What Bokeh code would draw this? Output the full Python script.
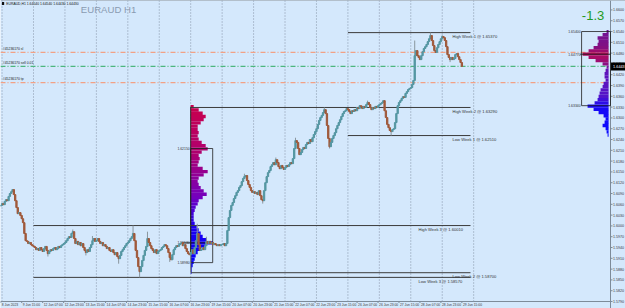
from bokeh.plotting import figure
from bokeh.models import Range1d, ColumnDataSource
from bokeh.embed import file_html
from bokeh.resources import INLINE
from bokeh.core.properties import value

# ---------------- data ----------------
SYMBOL = "EURAUD"
PERIOD = "H1"
FIRST_OPEN_PTS = 16055

# hourly closes (price * 10000), 8 Jun 23:00 .. 29 Jun 15:00
close_pts = [
    # 8 Jun 23:00, 9 Jun
    16057, 16062, 16059, 16068, 16073, 16070, 16082, 16090, 16095, 16101, 16087, 16070, 16051,
    16034, 16037, 16029, 16020, 16009, 15979, 15959, 15957, 15951, 15954, 15948, 15945,
    # 12 Jun
    15943, 15940, 15934, 15937, 15932, 15940, 15934, 15929, 15937, 15943, 15932, 15923,
    15929, 15934, 15932, 15937, 15940, 15934, 15937, 15943, 15940, 15945, 15948, 15951,
    # 13 Jun
    15954, 15959, 15965, 15970, 15968, 15979, 15984, 15965, 15951, 15957, 15948, 15954,
    15945, 15951, 15940, 15932, 15926, 15934, 15929, 15940, 15948, 15959, 15965, 15957,
    # 14 Jun
    15959, 15965, 15957, 15951, 15954, 15945, 15948, 15943, 15937, 15940, 15932, 15929,
    15934, 15926, 15920, 15926, 15915, 15909, 15918, 15929, 15934, 15940, 15945, 15951,
    # 15 Jun
    15954, 15959, 15965, 15970, 15979, 15959, 15932, 15912, 15887, 15873, 15887, 15904,
    15918, 15932, 15943, 15965, 15954, 15945, 15937, 15932, 15926, 15934, 15923, 15929,
    # 16 Jun
    15932, 15934, 15940, 15943, 15948, 15945, 15937, 15926, 15912, 15906, 15920, 15934,
    15940, 15945, 15943, 15948, 15951, 15954, 15945, 15948, 15937, 15929, 15923, 15920,
    # 19 Jun
    15926, 15934, 15923, 15940, 15959, 15979, 15948, 15932, 15934, 15940, 15934, 15945,
    15957, 15951, 15957, 15951, 15954, 15948, 15951, 15948, 15945, 15948, 15945, 15948,
    # 20 Jun
    15948, 15951, 15945, 15951, 15987, 16023, 16043, 16057, 16065, 16076, 16084, 16093,
    16098, 16107, 16112, 16123, 16132, 16137, 16140, 16126, 16115, 16107, 16098, 16093,
    # 21 Jun
    16095, 16090, 16093, 16087, 16098, 16084, 16073, 16070, 16098, 16120, 16137, 16148,
    16154, 16165, 16170, 16176, 16170, 16184, 16176, 16165, 16159, 16168, 16162, 16157,
    # 22 Jun
    16162, 16168, 16165, 16170, 16176, 16173, 16187, 16215, 16237, 16232, 16215, 16198,
    16204, 16212, 16218, 16215, 16226, 16232, 16229, 16240, 16234, 16245, 16254, 16262,
    # 23 Jun
    16270, 16282, 16293, 16301, 16307, 16315, 16323, 16312, 16279, 16243, 16220, 16232,
    16243, 16251, 16259, 16270, 16279, 16287, 16295, 16304, 16312, 16318, 16320, 16326,
    # 26 Jun
    16323, 16318, 16312, 16320, 16318, 16323, 16320, 16329, 16326, 16334, 16332, 16326,
    16332, 16329, 16337, 16343, 16337, 16329, 16323, 16329, 16326, 16332, 16329, 16334,
    # 27 Jun
    16337, 16340, 16343, 16348, 16320, 16301, 16282, 16273, 16265, 16262, 16268, 16270,
    16287, 16312, 16334, 16343, 16348, 16354, 16359, 16357, 16368, 16373, 16379, 16382,
    # 28 Jun
    16384, 16393, 16404, 16473, 16487, 16473, 16468, 16462, 16473, 16484, 16493, 16498,
    16504, 16512, 16520, 16529, 16515, 16501, 16487, 16482, 16495, 16504, 16512, 16520,
    # 29 Jun
    16526, 16523, 16515, 16498, 16476, 16468, 16462, 16468, 16462, 16465, 16476, 16479,
    16470, 16462, 16454, 16443,
]

# notable wick extremes (bar index -> price * 10000)
wick_high_pts = {12: 16066, 55: 15990, 70: 15972, 101: 16001, 112: 15984, 150: 16006,
                 157: 15970, 186: 16145, 210: 16190, 225: 16245, 247: 16329, 280: 16348,
                 316: 16515, 328: 16537, 337: 16530}
wick_low_pts = {36: 15915, 65: 15918, 90: 15895, 106: 15857, 129: 15900, 145: 15870,
                200: 16062, 251: 16215, 298: 16251, 343: 16455}

day_start_bars = [1, 25, 49, 73, 97, 121, 145, 169, 193, 217, 241, 265, 289, 313, 337, 361]

time_tick_bars = [0, 16, 32, 48, 64, 80, 96, 112, 128, 144, 160, 176, 192, 208, 224,
                  240, 256, 272, 288, 304, 320, 336, 352]
time_tick_labels = ["8 Jun 2023", "9 Jun 15:00", "12 Jun 07:00", "12 Jun 23:00",
                    "13 Jun 15:00", "14 Jun 07:00", "14 Jun 23:00", "15 Jun 15:00",
                    "16 Jun 07:00", "16 Jun 23:00", "19 Jun 15:00", "20 Jun 07:00",
                    "20 Jun 23:00", "21 Jun 15:00", "22 Jun 07:00", "22 Jun 23:00",
                    "23 Jun 15:00", "26 Jun 07:00", "26 Jun 23:00", "27 Jun 15:00",
                    "28 Jun 07:00", "28 Jun 23:00", "29 Jun 15:00"]

price_ticks = [1.5790, 1.5820, 1.5850, 1.5880, 1.5910, 1.5940, 1.5970, 1.6000, 1.6030,
               1.6060, 1.6090, 1.6120, 1.6150, 1.6180, 1.6210, 1.6240, 1.6270, 1.6300,
               1.6330, 1.6360, 1.6390, 1.6420, 1.6450, 1.6480, 1.6510, 1.6540, 1.6570,
               1.6600]

week_names = ["Week 1", "Week 2", "Week 3"]
week_first_bar = [265, 145, 25]
week_last_bar = [352, 264, 144]

trade_ticket = "#45236170"
trade_levels = [1.6482, 1.6443, 1.6398]
trade_tags = ["sl", "sell 0.01", "tp"]

daily_change = "-1.3"

left_prof_top = 1.6331
left_prof_step = 0.0009
left_prof_vol = [3, 8, 12, 15, 13, 10, 7, 7, 8, 7, 8, 11, 15, 17, 11, 8, 9, 8, 7, 12,
                 17, 13, 8, 7, 8, 10, 13, 16, 12, 8, 7, 5, 4, 3, 3, 3, 4, 6, 8, 10,
                 12, 16, 22, 15, 10, 7, 5, 4, 3, 2, 1, 1]
left_prof_start_bar = 145
left_va = (1.6215, 1.5898)

right_prof_top = 1.6540
right_prof_step = 0.0009
right_prof_vol = [2, 6, 11, 10, 11, 15, 20, 26, 20, 13, 6, 2, 3, 4, 4, 3, 5, 6, 8, 9,
                  10, 11, 14, 21, 15, 10, 5, 3, 4, 6, 3, 2, 1]
right_va = (1.6540, 1.6334)

# ---------------- layout / style ----------------
BG = "#d4e8fc"
AXC = "#7d8b99"
PX = 1.31                      # pixels per bar
PY = 0.0002778                 # price per pixel
X0 = -0.19                     # left edge (bars)
AX = 465.46                    # price-axis position (bars)
XMAX = X0 + 625 / PX
Y1 = 1.66262                   # top edge (price)
YB = 1.5790                    # time-axis position (price)
YMIN = Y1 - 308 * PY
FONT = value("Liberation Sans")
LINE_END_BAR = 358.6
RIGHT_EDGE_BAR = 464.0

n = len(close_pts)
idx = list(range(n))
closes = [c / 10000 for c in close_pts]
opens = [FIRST_OPEN_PTS / 10000] + closes[:-1]
highs = [max(o, c) for o, c in zip(opens, closes)]
lows = [min(o, c) for o, c in zip(opens, closes)]
for k, v in wick_high_pts.items():
    highs[k] = max(highs[k], v / 10000)
for k, v in wick_low_pts.items():
    lows[k] = min(lows[k], v / 10000)

p = figure(width=625, height=308, x_range=Range1d(X0, XMAX), y_range=Range1d(YMIN, Y1),
           output_backend="svg", toolbar_location=None, x_axis_location=None,
           y_axis_location=None, min_border=0, background_fill_color=BG,
           border_fill_color=BG, outline_line_color=None)
p.grid.visible = False

# ---- axes (price on the right, time below) ----
p.segment(x0=[AX, X0, X0], x1=[AX, AX, XMAX], y0=[YMIN, YB, Y1], y1=[Y1, YB, Y1],
          line_color=AXC, line_width=1)
p.segment(x0=[AX] * len(price_ticks), x1=[AX + 2 / PX] * len(price_ticks),
          y0=price_ticks, y1=price_ticks, line_color=AXC, line_width=1)
p.text(x=[AX + 2.6 / PX] * len(price_ticks), y=price_ticks,
       text=[f"{t:.4f}" for t in price_ticks], text_font=FONT, text_font_size=value("3.6px"),
       text_color="#3a3a3a", text_baseline="middle", text_align="left")
p.segment(x0=time_tick_bars, x1=time_tick_bars, y0=[YB] * len(time_tick_bars),
          y1=[YB - 1.5 * PY] * len(time_tick_bars), line_color=AXC, line_width=1)
p.text(x=[b + 0.8 for b in time_tick_bars], y=[YB - 1.6 * PY] * len(time_tick_bars),
       text=time_tick_labels, text_font=FONT, text_font_size=value("3.3px"),
       text_color="#3a3a3a", text_baseline="top", text_align="left")

# day separators
p.segment(x0=day_start_bars, x1=day_start_bars, y0=[YB] * len(day_start_bars),
          y1=[Y1] * len(day_start_bars), line_color="#8694a8", line_dash="1 2", line_width=1)

# trade lines
trade_colors = ["#f2a184", "#4cb67e", "#f2a184"]
for lvl, tag, col in zip(trade_levels, trade_tags, trade_colors):
    p.segment(x0=[X0], x1=[AX], y0=[lvl], y1=[lvl], line_color=col, line_dash="5 2 1 2",
              line_width=1.2)
    p.text(x=[1.6], y=[lvl + 0.0004], text=[f"{trade_ticket} {tag}"], text_font=FONT,
           text_font_size=value("3.4px"), text_color="#202020", text_baseline="bottom",
           text_align="left")


# volume profiles
def blend(stops, t):
    for (t0, c0), (t1, c1) in zip(stops[:-1], stops[1:]):
        if t0 <= t <= t1:
            f = (t - t0) / (t1 - t0) if t1 > t0 else 0
            r, g, b = (round(a + (bb - a) * f) for a, bb in zip(c0, c1))
            return f"#{r:02x}{g:02x}{b:02x}"
    r, g, b = stops[-1][1]
    return f"#{r:02x}{g:02x}{b:02x}"


lp_levels = [left_prof_top - k * left_prof_step for k in range(len(left_prof_vol))]
lp_stops = [(0.0, (200, 0, 78)), (0.28, (175, 0, 110)), (0.55, (115, 0, 190)),
            (0.72, (30, 0, 240)), (1.0, (0, 0, 255))]
lp_cols = [blend(lp_stops, k / (len(lp_levels) - 1)) for k in range(len(lp_levels))]
p.hbar(y=lp_levels, height=left_prof_step * 1.02, left=left_prof_start_bar,
       right=[left_prof_start_bar + v / PX for v in left_prof_vol],
       fill_color=lp_cols, line_color=None)
p.segment(x0=[left_prof_start_bar], x1=[left_prof_start_bar], y0=[lp_levels[-1]],
          y1=[lp_levels[0]], line_color="#2a2a2a", line_width=1)

rp_levels = [right_prof_top - k * right_prof_step for k in range(len(right_prof_vol))]
rp_stops = [(0.0, (112, 20, 150)), (0.15, (130, 15, 130)), (0.22, (178, 10, 92)),
            (0.3, (150, 15, 120)), (0.38, (95, 20, 185)), (0.62, (85, 20, 200)),
            (0.72, (25, 10, 245)), (1.0, (10, 10, 255))]
rp_cols = [blend(rp_stops, k / (len(rp_levels) - 1)) for k in range(len(rp_levels))]
p.hbar(y=rp_levels, height=right_prof_step * 1.02, right=RIGHT_EDGE_BAR,
       left=[RIGHT_EDGE_BAR - v / PX for v in right_prof_vol],
       fill_color=rp_cols, line_color=None)

# value-area boxes and POC lines
lp_poc = lp_levels[left_prof_vol.index(max(left_prof_vol))]
rp_poc = rp_levels[right_prof_vol.index(max(right_prof_vol))]
l_box_right = left_prof_start_bar + max(left_prof_vol) / PX
r_box_left = RIGHT_EDGE_BAR - 27 / PX
p.quad(left=[left_prof_start_bar], right=[l_box_right], top=[left_va[0]], bottom=[left_va[1]],
       fill_color=None, line_color="#1e1e1e", line_width=0.8)
p.quad(left=[r_box_left], right=[AX], top=[right_va[0]], bottom=[right_va[1]],
       fill_color=None, line_color="#1e1e1e", line_width=0.8)
p.segment(x0=[left_prof_start_bar - 7], x1=[l_box_right], y0=[lp_poc], y1=[lp_poc],
          line_color="#1e1e1e", line_width=0.9)
p.segment(x0=[r_box_left - 1], x1=[AX], y0=[rp_poc], y1=[rp_poc],
          line_color="#1e1e1e", line_width=0.9)
for xb, vals in ((left_prof_start_bar - 0.8, [left_va[0], lp_poc, left_va[1]]),
                 (r_box_left - 0.8, [right_va[0], rp_poc, right_va[1]])):
    p.text(x=[xb] * 3, y=vals, text=[f"{v:.5f}" for v in vals], text_font=FONT,
           text_font_size=value("3.4px"), text_color="#303030", text_align="right",
           text_baseline="middle")

# weekly high / low lines
for name, b0, b1 in zip(week_names, week_first_bar, week_last_bar):
    hi = max(highs[b0:b1 + 1])
    lo = min(lows[b0:b1 + 1])
    p.segment(x0=[b0, b0], x1=[LINE_END_BAR, LINE_END_BAR], y0=[hi, lo], y1=[hi, lo],
              line_color="#3b3b3b", line_width=1)
    lab_x = 318.9 if name == "Week 3" else 344.9
    p.text(x=[lab_x, lab_x], y=[hi - 1.2 * PY, lo - 1.2 * PY],
           text=[f"High {name} @ {hi:.5f}", f"Low {name} @ {lo:.5f}"],
           text_font=FONT, text_font_size=value("4.1px"), text_color="#333333",
           text_align="left", text_baseline="top")

# candles
bull = [c >= o for o, c in zip(opens, closes)]
src = ColumnDataSource(dict(
    i=idx, h=highs, l=lows,
    top=[max(o, c) for o, c in zip(opens, closes)],
    bot=[min(o, c) for o, c in zip(opens, closes)],
    col=["#5597a3" if b else "#a0593a" for b in bull],
))
p.segment(x0="i", x1="i", y0="h", y1="l", source=src, line_color="#8a969e", line_width=1)
p.vbar(x="i", width=1.0, top="top", bottom="bot", source=src, fill_color="col",
       line_color="col", line_width=1.0)

# header texts
p.quad(left=[0.9], right=[2.6], top=[Y1 - 1.6 * PY], bottom=[Y1 - 4.6 * PY],
       fill_color="#111111", line_color=None)
hdr = f"{SYMBOL},{PERIOD}  {opens[-1]:.5f} {highs[-1]:.5f} {lows[-1]:.5f} {closes[-1]:.5f}"
p.text(x=[4.2], y=[Y1 - 3.2 * PY], text=[hdr], text_font=FONT, text_font_size=value("3.4px"),
       text_color="#111111", text_baseline="middle", text_align="left")
p.text(x=[82.3], y=[Y1 - 9.2 * PY], text=[f"{SYMBOL} {PERIOD}"], text_font=FONT,
       text_font_size=value("9.6px"), text_color="#8a9bb1", text_baseline="middle",
       text_align="center")
p.text(x=[443.6], y=[Y1 - 14.5 * PY], text=[daily_change], text_font=FONT,
       text_font_size=value("13px"), text_color="#1f9a22", text_baseline="middle",
       text_align="left")

# current price tag on the price axis
last = closes[-1]
p.quad(left=[AX + 0.4], right=[XMAX], top=[last + 4 * PY], bottom=[last - 4 * PY],
       fill_color="#000000", line_color=None)
p.text(x=[AX + 2.6 / PX], y=[last], text=[f"{last:.4f}"], text_font=FONT,
       text_font_size=value("3.8px"), text_color="white", text_baseline="middle",
       text_align="left")

open("out.html", "w").write(file_html(p, INLINE))
